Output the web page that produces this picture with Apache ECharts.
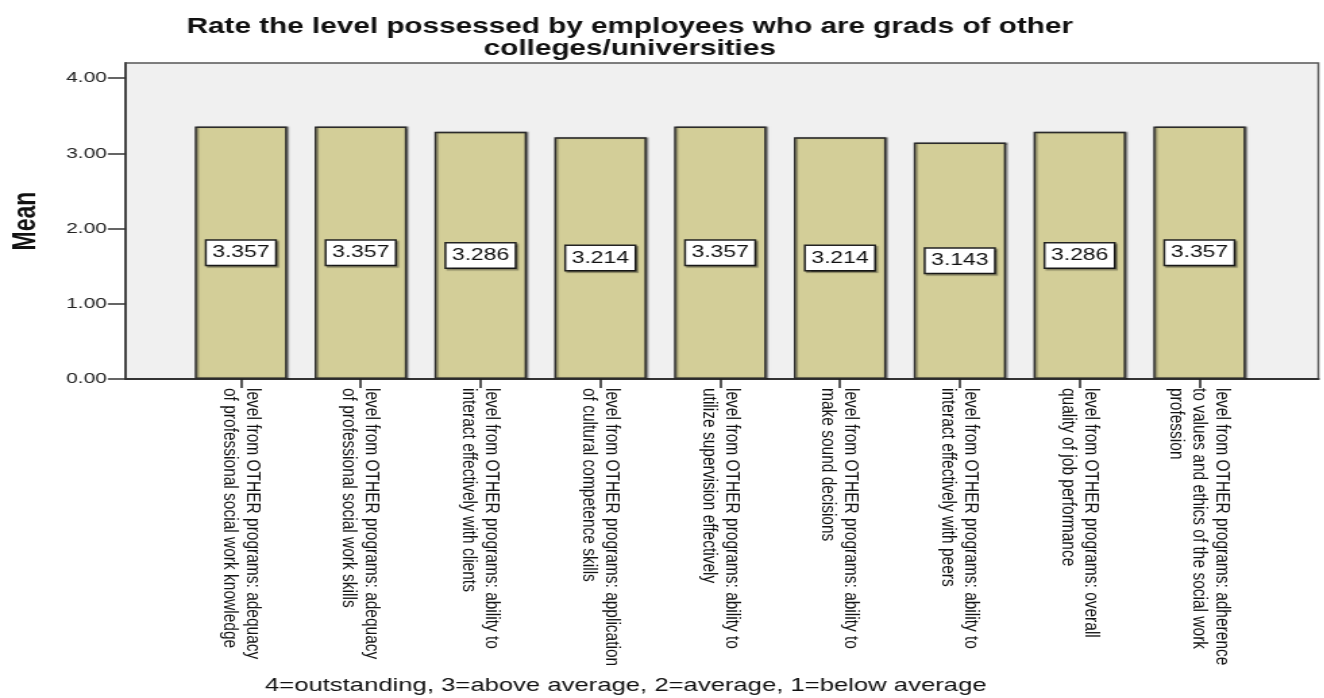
<!DOCTYPE html>
<html>
<head>
<meta charset="utf-8">
<script src="https://cdn.jsdelivr.net/npm/echarts@6/dist/echarts.min.js"></script>
<style>
  html, body { margin: 0; padding: 0; background: #fff; overflow: hidden; }
  #chart { height: 698px; transform-origin: 0 0; }
</style>
</head>
<body>
<div id="chart"></div>
<script>
// Mean ratings per item (scale 1-4)
const categories = [
  'level from OTHER programs: adequacy\nof professional social work knowledge',
  'level from OTHER programs: adequacy\nof professional social work skills',
  'level from OTHER programs: ability to\ninteract effectively with clients',
  'level from OTHER programs: application\nof cultural competence skills',
  'level from OTHER programs: ability to\nutilize supervision effectively',
  'level from OTHER programs: ability to\nmake sound decisions',
  'level from OTHER programs: ability to\ninteract effectively with peers',
  'level from OTHER programs: overall\nquality of job performance',
  'level from OTHER programs: adherence\nto values and ethics of the social work\nprofession'
];
const means = [3.357, 3.357, 3.286, 3.214, 3.357, 3.214, 3.143, 3.286, 3.357];
const yTicks = [0, 1, 2, 3, 4];
const titleText = 'Rate the level possessed by employees who are grads of other\ncolleges/universities';
const footText = '4=outstanding, 3=above average, 2=average, 1=below average';
const yName = 'Mean';

// Page is drawn in a narrower canvas and widened horizontally.
const W = 1324, H = 698;
const SX = 1.35;
const el = document.getElementById('chart');
el.style.width = (W / SX) + 'px';
el.style.transform = 'scaleX(' + SX + ')';
const hx = v => v / SX;   // horizontal page pixels -> canvas pixels

const FONT = 'Arial, "Liberation Sans", Helvetica, sans-serif';
const frameTop = 63, frameBottom = H - 379;

const chart = echarts.init(el, null, { renderer: 'canvas' });
chart.setOption({
  animation: false,
  backgroundColor: '#ffffff',
  title: [
    {
      text: titleText,
      left: hx(623), top: 11, textAlign: 'center',
      textStyle: { fontFamily: FONT, fontWeight: 'bold', fontSize: 22, lineHeight: 22, color: '#111' }
    },
    {
      text: footText,
      left: hx(619), top: 671, textAlign: 'center',
      textStyle: { fontFamily: FONT, fontWeight: 'normal', fontSize: 19, color: '#111' }
    }
  ],
  grid: [
    { // frame
      left: hx(120), right: hx(W - 1318), top: frameTop, bottom: frameBottom,
      show: true, backgroundColor: '#f0f0f0', borderColor: '#555', borderWidth: 1.5
    },
    { // bars
      left: hx(181), right: hx(W - 1259), top: frameTop, bottom: frameBottom
    }
  ],
  xAxis: [
    {
      gridIndex: 0, type: 'value', min: 0, max: 1,
      axisLine: { show: true, lineStyle: { color: '#333', width: 2 } },
      axisTick: { show: false }, axisLabel: { show: false }, splitLine: { show: false }
    },
    {
      gridIndex: 1, type: 'category', data: categories,
      axisLine: { show: false },
      axisTick: { show: true, alignWithLabel: true, length: 9, lineStyle: { color: '#222', width: 1.5 } },
      axisLabel: {
        rotate: -90, interval: 0, margin: 9,
        fontFamily: FONT, fontSize: 15.5, lineHeight: 17, color: '#111'
      }
    }
  ],
  yAxis: [
    {
      gridIndex: 0, type: 'value', min: 0, max: 4.2,
      name: yName, nameLocation: 'middle', nameGap: hx(84),
      nameTextStyle: { fontFamily: FONT, fontWeight: 'bold', fontSize: 23, color: '#111' },
      axisLine: { show: true, lineStyle: { color: '#444', width: 2 } },
      axisTick: { show: true, customValues: yTicks, length: hx(18), lineStyle: { color: '#333', width: 1.5 } },
      axisLabel: {
        customValues: yTicks, margin: hx(19),
        formatter: v => v.toFixed(2),
        fontFamily: FONT, fontSize: 15.5, color: '#222'
      },
      splitLine: { show: false }
    },
    {
      gridIndex: 1, type: 'value', min: 0, max: 4.2, show: false
    }
  ],
  series: [
    {
      type: 'bar', xAxisIndex: 1, yAxisIndex: 1,
      data: means, barWidth: '77%',
      itemStyle: {
        color: '#d3ce98', borderColor: '#2b2b2b', borderWidth: 1.5,
        shadowColor: 'rgba(0,0,0,0.35)', shadowOffsetX: 1.5, shadowBlur: 1
      },
      label: {
        show: true, position: 'inside',
        formatter: p => p.value.toFixed(3),
        fontFamily: FONT, fontSize: 17, color: '#111',
        backgroundColor: '#ffffff', borderColor: '#222', borderWidth: 1.5,
        padding: [4, 4, 3, 4],
        shadowColor: 'rgba(0,0,0,0.35)', shadowOffsetX: 1.5, shadowOffsetY: 1.5, shadowBlur: 1
      }
    }
  ]
});
</script>
</body>
</html>
